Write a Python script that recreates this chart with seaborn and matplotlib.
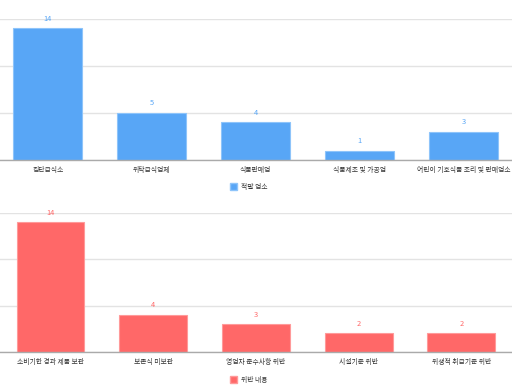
import matplotlib
matplotlib.use('Agg')
import matplotlib.pyplot as plt
import seaborn as sns
from matplotlib.patches import Patch

# ── Data ─────────────────────────────────────────────────
business_types = ['집단급식소', '위탁급식업체', '식품판매업', '식품제조 및 가공업', '어린이 기호식품 조리 및 판매업소']
business_counts = [14, 5, 4, 1, 3]
business_label = '적발 업소'

violation_types = ['소비기한 경과 제품 보관', '보존식 미보관', '영업자 준수사항 위반', '시설기준 위반', '위생적 취급기준 위반']
violation_counts = [14, 4, 3, 2, 2]
violation_label = '위반 내용'

sns.set_theme(style='white')
plt.rcParams['font.family'] = ['Noto Sans CJK KR', 'DejaVu Sans']

fig = plt.figure(figsize=(5.12, 3.89), dpi=100)

def draw(rect, cats, vals, color, edge, label, legend_y):
    ax = fig.add_axes(rect)
    sns.barplot(x=cats, y=vals, color=color, width=0.66, ax=ax,
                edgecolor=edge, linewidth=0.8, saturation=1)
    ax.set_ylim(0, 15)
    ax.set_yticks([0, 5, 10, 15])
    ax.set_yticklabels([])
    ax.tick_params(axis='y', length=0)
    ax.tick_params(axis='x', length=0, labelsize=4.9, colors='#333333', pad=4)
    ax.yaxis.grid(True, color='#e3e3e3', linewidth=1)
    ax.set_axisbelow(True)
    for s in ['top', 'left', 'right']:
        ax.spines[s].set_visible(False)
    ax.spines['bottom'].set_color('#aaaaaa')
    ax.spines['bottom'].set_linewidth(1)
    ax.bar_label(ax.containers[0], fontsize=5.4, color=color, padding=4)
    fig.legend(handles=[Patch(facecolor=color, edgecolor=edge, label=label)],
               loc='center', bbox_to_anchor=(0.486, legend_y), frameon=False,
               fontsize=4.9, handlelength=0.95, handleheight=1.1, handletextpad=0.6,
               labelcolor='#333333')
    return ax

draw([-4.2 / 512, 229 / 389, 519.7 / 512, 141 / 389], business_types, business_counts,
     '#58a6f6', '#8ec4fa', business_label, 1 - 187 / 389)
draw([-0.9 / 512, 37 / 389, 513.6 / 512, 139 / 389], violation_types, violation_counts,
     '#ff6868', '#ff9a9a', violation_label, 1 - 380 / 389)

plt.savefig('out.png', dpi=100)
plt.close()
